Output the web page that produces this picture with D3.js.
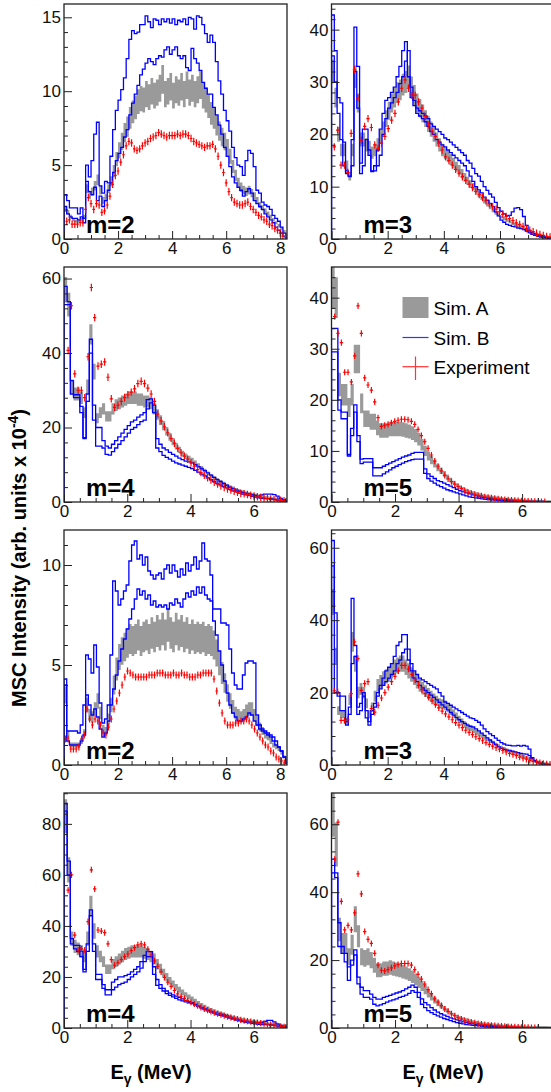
<!DOCTYPE html>
<html>
<head>
<meta charset="utf-8">
<script src="https://d3js.org/d3.v7.min.js"></script>
<style>
  body { margin: 0; background: #fff; }
  text { font-family: "Liberation Sans", Arial, Helvetica, sans-serif; }
</style>
</head>
<body>
<div id="chart"></div>
<script>
// Histogram bins are 0.1 MeV wide, starting at 0
var binWidth = 0.1;

// ---- panel 1: m=2 (upper group) ----
var simA_1 = [2.0,1.8,1.5,1.3,1.2,1.2,1.3,1.5,3.4,3.0, 3.2,3.6,4.0,3.3,2.6,2.8,3.4,3.9,4.6,5.4, 6.0,6.6,7.2,7.6,8.2,8.6,8.9,9.3,9.5,9.4, 9.8,9.6,10.0,9.7,9.9,10.2,10.8,9.8,10.0,10.3, 9.7,10.1,9.9,10.3,9.8,10.4,9.9,10.2,9.8,10.1, 10.4,9.7,9.4,9.0,8.5,8.2,7.7,7.3,6.9,6.6, 6.2,5.6,4.9,4.3,3.8,3.5,3.3,3.2,3.3,3.1, 2.9,2.6,2.3,2.1,1.9,1.7,1.5,1.3,1.1,0.9, 0.7,0.5,0.3];
var simB1_1 = [3.0,2.6,2.1,2.1,2.1,1.7,2.1,1.4,5.0,4.2, 5.3,7.1,7.9,3.6,3.1,3.9,3.8,5.6,7.4,8.7, 9.4,10.1,10.9,12.2,13.5,14.1,13.9,14.0,14.5,14.5, 15.1,14.7,14.3,14.9,14.8,14.5,14.9,14.7,14.9,14.6, 14.9,14.5,14.8,14.7,14.9,14.5,15.0,14.9,14.2,15.1, 15.0,14.5,13.9,13.3,13.8,13.3,12.0,10.7,9.8,8.7, 8.0,7.3,6.2,5.5,5.0,4.9,4.3,5.3,6.0,5.8, 4.9,3.3,3.1,2.5,2.3,2.2,2.0,1.6,1.4,1.2, 0.8,0.4,0.1];
var simB2_1 = [2.2,1.7,1.5,1.4,1.4,1.3,1.5,1.1,3.9,3.2, 3.0,3.5,2.6,2.9,2.2,2.6,3.3,3.8,4.5,5.3, 5.8,6.2,6.9,7.4,8.4,9.2,9.8,10.4,11.1,11.5, 11.9,12.2,12.0,11.8,12.2,12.4,12.3,12.8,13.0,12.5, 12.8,13.0,12.4,12.2,12.4,11.6,11.4,12.9,12.2,11.9, 11.4,10.6,10.2,9.8,9.8,8.9,8.4,7.7,7.1,6.2, 5.6,4.9,4.2,3.8,3.5,3.3,2.9,3.2,3.4,3.1, 2.6,2.4,2.2,2.0,1.7,1.5,1.3,1.1,0.8,0.6, 0.4,0.2,0.05];
var exp_1 = [1.2,1.3,1.0,1.0,1.0,1.1,1.1,2.0,2.8,2.4, 2.0,2.4,2.3,1.8,1.9,2.3,2.9,3.7,4.3,4.6, 5.2,5.7,6.3,6.6,6.5,6.1,6.0,6.1,6.3,6.5, 6.6,6.8,6.9,7.0,7.2,7.1,7.0,6.9,7.0,7.0, 7.0,7.1,7.0,7.1,7.1,7.0,6.8,6.6,6.5,6.4, 6.3,6.2,6.3,6.3,6.4,6.1,5.6,5.0,4.5,3.8, 3.2,2.8,2.5,2.4,2.3,2.3,2.4,2.5,2.2,2.0, 1.8,1.6,1.5,1.3,1.2,1.0,0.9,0.7,0.6,0.4, 0.2,0.1];

// ---- panel 2: m=3 (upper group) ----
var simA_2 = [32,27,20,17,17,14,12,17,31,26, 19,19,18,17.5,16.5,17,18,19.5,21,23, 24.5,26,27,28,28.5,29.5,30,31,29,27.5, 26,25,24,23,22,21,20,19,18,17, 16.4,15.8,15.2,14.5,13.8,13.2,12.5,11.8,11.1,10.5, 10,9.3,8.6,8,7.3,6.7,6.1,5.5,5,4.6, 4.2,3.9,3.6,3.3,3.0,2.8,2.6,2.3,2.0,1.7, 1.4,1.1,0.9,0.7,0.5,0.4,0.3,0.2,0.1];
var simB1_2 = [42.8,36,27,26,18.5,13,12,19,40.5,33, 14.5,21,21,16,13,14,17,21,24,26.5, 27,28,29,31,33,36,37.7,31,27,25.5, 25,24.5,24,23.5,23,22,21.5,21,20.5,20, 19.3,19,18.5,18,17.5,17,16.5,16,15,14.5, 13.5,12.5,12,11,10,9.3,8.6,8,7,6, 5.3,4.8,4.4,4.5,5.2,5.9,6.0,5.6,4.3,2.6, 1.6,1.2,1.0,0.8,0.6,0.4,0.3,0.2,0.1];
var simB2_2 = [35,30,24,19,14,12.5,11.9,14,32,25, 12.5,14,19,17,12.9,13,14,16,20,23, 25,26,27,28,29.7,31,34,36,29,26.5, 24,23.5,23,22.4,21.5,20.5,20,19,18.5,18, 17.6,17,16.5,16,15.5,15,14.5,14,13,12, 11,10,9.4,8.8,8,7.4,6.8,6.2,5.2,4.4, 3.6,3.2,2.8,2.6,2.4,2.3,2.1,2.0,1.8,1.5, 1.2,0.9,0.7,0.5,0.4,0.3,0.2,0.1,0.05];
var exp_2 = [17.6,20.8,14.1,14.1,12.7,20.2,32.3,26.9,18.9,21.5, 23,21.3,18,17.3,18.3,19.6,21.1,22.7,24,26.2, 28.8,30.4,28.8,27.5,27.5,26.2,25,23.4,21.8,20.6, 19.6,18.3,17,15.7,15.0,14.1,13.3,12.6,11.9,11.2, 10.5,9.8,9.1,8.5,7.9,7.3,6.7,6.2,5.7,5.2, 4.7,4.3,3.9,3.5,3.1,2.8,2.4,2.0,1.7,1.4, 1.1,0.9,0.7,0.5,0.4,0.3,0.2];

// ---- panel 3: m=4 (upper group) ----
var simA_3 = [57,53,31,29,29,28,24,31,45,35, 22.5,24,25,23,23,25,26,26.5,27,27.5, 28,28,28,27.5,27.5,27,27,26.5,25,23.5, 22,20.5,19,17.5,16.2,15,14,13,12.3,11.7, 11.2,10.5,9.8,9.1,8.4,7.7,7.1,6.5,6.0,5.5, 5.0,4.5,4.1,3.7,3.3,3.0,2.7,2.4,2.2,2.0, 1.8,1.6,1.4,1.2,1.1,0.9,0.8,0.6,0.5,0.3, 0.2];
var simB1_3 = [57.9,53.8,32.6,28.8,28.8,25.7,17.3,29,43.7,26, 20,20,16.5,15,14.5,15.5,16.5,17.5,18.5,19.5, 20.5,21.5,22,22.8,23.4,24,27.5,27.7,24,17, 15.5,14.5,14,13.3,12.8,12.3,11.8,11.4,11,10.8, 10.5,10,9.5,9,8.4,7.8,7.2,6.6,6,5.5, 5,4.5,4,3.6,3.2,2.9,2.6,2.4,2.2,2.0, 1.8,1.6,1.9,2.1,2.1,2.1,2.0,1.6,1.0,0.6, 0.3];
var simB2_3 = [53,53,29,28,28,24,17,27,40,22, 15,15,14.5,12.8,12.6,13.5,14.5,15.5,16.5,17.5, 18.5,19.5,20,20.8,21.6,22,25,26.6,26,14.5, 13.5,12.5,12,11.5,11,10.5,10.2,9.9,9.6,9.3, 9,8.5,8,7.5,7,6.5,6,5.5,5,4.6, 4.2,3.8,3.4,3,2.7,2.4,2.1,1.9,1.7,1.5, 1.3,1.1,1.0,0.9,0.9,0.8,0.7,0.5,0.3,0.2, 0.1];
var exp_3 = [40.7,52.7,34.4,30,30,28,39,57.6,49.5,36.5, 37,37.6,33.5,27.7,25.4,26,27,28,28.8,29.5, 30.4,31.8,32.4,31.8,30.6,29,27,23.6,21.8,20.2, 18.6,17.1,15.8,14.4,13.2,12.3,11.5,10.5,9.6,8.7, 7.9,7.2,6.5,5.9,5.3,4.8,4.3,3.9,3.5,3.2, 2.9,2.6,2.3,2.2,2.0,1.8,1.6,1.4,1.3,1.1, 0.9,0.8,0.6,0.5,0.45,0.35];

// ---- panel 4: m=5 (upper group) ----
var simA_4 = [42,40,23,21,21,18.5,21,28,28,19.3, 16.3,16.3,15.7,15.7,14.5,14,14,14,14.3,14.3, 14.3,14.3,14.2,14,13.8,13.5,13,12.3,11.2,10, 9,8.2,7.5,6.7,6.1,5.5,4.9,4.3,3.8,3.3, 2.9,2.6,2.3,2.0,1.8,1.6,1.4,1.2,1.1,1.0, 0.9,0.8,0.7,0.6,0.5,0.45,0.4,0.35,0.3,0.25, 0.2,0.2,0.15,0.15,0.1,0.1,0.1,0.05,0.05,0.05];
var simB1_4 = [34,34,20,17.6,17.6,9.3,14.4,19,13,8.4, 8.5,8.5,8.5,6.7,6.7,6.7,7,7.3,7.6,7.9, 8.2,8.5,8.8,9,9.2,9.5,9.7,9.7,9.7,6.5, 5.5,5,4.6,4.2,4,3.7,3.4,3.1,2.8,2.5, 2.2,2,1.8,1.6,1.4,1.2,1.0,0.9,0.8,0.7, 0.6,0.5,0.4,0.4,0.3,0.3,0.2,0.2,0.2,0.1, 0.1,0.1,0.1,0.1,0.1,0.1,0.1,0.05,0.05,0.05];
var simB2_4 = [29.4,29.4,18,16.3,16.3,9,13,17.6,11.8,7.5, 7.8,7.8,7.8,5.1,5.1,5.1,5.5,5.9,6.3,6.7, 7,7.3,7.6,7.9,8.1,8.3,8.4,8.4,8.4,5.6, 4.6,4.1,3.7,3.3,3.0,2.7,2.4,2.2,2.0,1.8, 1.6,1.4,1.2,1.0,0.9,0.8,0.7,0.6,0.5,0.45, 0.4,0.35,0.3,0.25,0.2,0.2,0.15,0.15,0.1,0.1, 0.1,0.1,0.05,0.05,0.05,0.05,0.05,0.05,0.05,0.05];
var exp_4 = [36.3,33,31.2,25.4,25.4,23.5,28.6,38.4,33,24.3, 22.9,21.9,19.6,16.5,14.8,15,15.2,15.5,15.8,16, 16.2,16.2,16.1,15.8,15.2,14.2,13,11.8,10.5,9.2, 8,7,6.1,5.2,4.5,4.0,3.5,3.0,2.6,2.2, 1.9,1.7,1.5,1.3,1.2,1.0,0.9,0.8,0.7,0.6, 0.55,0.5,0.45,0.4,0.35,0.3,0.25,0.2,0.2,0.15, 0.15,0.1,0.1,0.1];

// ---- panel 5: m=2 (lower group) ----
var simA_5 = [3.5,1.5,1.0,1.0,1.0,1.0,1.2,1.6,3.0,2.5, 2.4,2.8,3.2,2.6,1.8,1.7,2.3,3.0,4.0,4.8, 5.4,5.7,5.9,6.1,6.3,6.2,6.3,6.5,6.2,6.4, 6.5,6.3,6.6,6.4,6.7,6.5,6.8,6.5,7.0,6.6, 6.4,6.8,6.5,6.7,6.4,6.6,6.3,6.5,6.3,6.4, 6.3,6.4,6.2,6.3,6.2,6.0,5.6,5.1,4.6,4.1, 3.6,3.2,2.9,2.6,2.5,2.4,2.5,2.7,2.8,2.8, 2.5,2.2,1.9,1.7,1.5,1.4,1.2,1.0,0.9,0.8, 0.6,0.4,0.2];
var simB1_5 = [4.3,1.7,1.7,1.7,1.7,1.6,2.0,3.0,5.5,5.3, 4.6,6.0,4.9,3.1,2.1,2.3,3.0,5.5,9.2,8.7, 8.0,8.3,8.7,9.0,10.2,11.0,11.2,10.3,10.5,10.0, 10.4,9.7,9.5,9.3,9.5,9.6,9.3,9.8,10.0,9.6, 10.0,9.7,9.4,9.8,9.5,10.1,9.7,10.0,10.4,9.8, 10.2,11.1,10.3,10.2,9.5,7.8,7.8,7.8,7.1,7.1, 7.0,5.8,4.6,4.0,3.8,3.8,4.5,5.1,5.2,5.2, 5.1,2.5,2.0,1.8,1.7,1.6,1.5,1.4,1.2,0.9, 0.7,0.4,0.1];
var simB2_5 = [4.0,1.2,1.0,1.0,1.0,1.0,1.2,1.5,3.5,3.0, 2.5,2.8,2.4,1.8,1.4,1.6,2.2,3.0,3.8,4.5, 5.2,5.8,6.3,6.8,7.3,7.8,8.3,8.8,8.5,8.7, 8.3,8.5,8.0,8.2,7.9,8.0,7.9,8.0,7.8,8.1, 8.0,8.3,8.1,7.9,8.3,8.6,8.4,8.7,8.5,8.9, 8.6,8.9,8.5,8.3,8.2,7.2,6.5,5.7,5.0,4.2, 3.6,3.0,2.6,2.4,2.2,2.2,2.3,2.4,2.6,2.5, 2.2,2.0,1.8,1.7,1.6,1.5,1.4,1.2,1.0,0.9, 0.7,0.4,0.1];
var exp_5 = [1.3,1.3,0.8,0.8,0.8,0.9,1.3,1.5,2.8,2.3, 2.0,2.3,2.2,2.0,1.6,1.5,1.9,2.3,2.8,3.2, 3.6,4.0,4.4,4.7,4.6,4.5,4.4,4.4,4.4,4.4, 4.4,4.5,4.5,4.5,4.6,4.6,4.6,4.5,4.5,4.5, 4.6,4.5,4.5,4.6,4.5,4.5,4.4,4.4,4.4,4.5, 4.5,4.6,4.6,4.6,4.6,4.3,3.7,3.1,2.6,2.2, 2.0,2.0,2.0,2.1,2.1,2.2,2.2,2.3,2.2,2.0, 1.8,1.6,1.4,1.2,1.0,0.9,0.7,0.6,0.4,0.3, 0.2,0.1];

// ---- panel 6: m=3 (lower group) ----
var simA_6 = [45,30,15,14,14,12,18,34,28,20, 21,20,17,14,16,19,22,23,24,24.5, 25,26,27,27.5,28,28,27,26,25,24, 23,22,21.2,20.4,19.7,19,18.3,17.7,17.1,16.8, 16.5,15.8,15,14.2,13.4,12.6,11.9,11.2,10.6,10.1, 9.6,9.1,8.6,8.1,7.6,7.1,6.6,6.2,5.7,5.3, 4.9,4.5,4.1,3.8,3.5,3.2,2.9,2.6,2.3,2.0, 1.7,1.4,1.1,0.8,0.6,0.4,0.3,0.2];
var simB1_6 = [62,42,20,19,19,12,16,46,33,16, 17,20,15,12,15,17,20,22,24,26, 27,28,30,33,34,36,36,32,28,26, 25,24,23.5,23,22.5,22,21.5,21,20,19, 17.4,17,16.5,16,15.5,15,14.5,14,13.5,13, 12.8,12.3,11.8,11,10,9.2,8.6,8.1,7.4,6.8, 6.2,5.8,5.5,5.4,5.3,5.3,5.4,5.2,5.4,5.2, 4.4,2.0,1.2,0.8,0.5,0.3,0.2,0.1];
var simB2_6 = [55,20,19,15,15,11,14,28,30,14, 15,19,13,11,14,16,19,21,22,23, 24,25,26,28,29,31,32,29,26,24, 23,22,21.3,20.6,20,19.3,18.7,18,17.3,16.6, 16,15.2,14.5,13.8,13.1,12.5,12,11.5,11,10.7, 10.5,10,9.4,8.8,8.2,7.5,6.9,6.3,5.7,5.1, 4.6,4.3,4.1,4.0,3.8,3.6,3.4,3.2,3.1,3.0, 2.6,1.8,1.0,0.6,0.4,0.2,0.1,0.05];
var exp_6 = [20.5,20.2,12.3,12.3,12.5,19.7,34,29.4,20.6,22.5, 23,15.6,14.6,16.5,18.5,20,21.5,23,24.5,26, 27.5,27.5,26.5,25,23.5,22,20.8,19.7,18.7,17.7, 16.7,15.8,14.9,14.1,13.3,12.5,11.7,11,10.3,9.6, 9,8.4,7.8,7.3,6.7,6.2,5.7,5.2,4.8,4.4, 4.0,3.6,3.2,2.9,2.6,2.2,1.9,1.6,1.3,1.0, 0.8,0.6,0.4,0.3,0.2];

// ---- panel 7: m=4 (lower group) ----
var simA_7 = [83,62,35,32,31,30,28,35,48,38, 30,28,26,23,23,25,26,27,28,29, 29.5,30,30,30,30,29.5,29,28,27,25, 23.3,21.5,20,18.5,17.2,16,15,14,13,12.2, 11.4,10.6,9.8,9.1,8.4,7.8,7.2,6.7,6.2,5.8, 5.4,5.0,4.6,4.2,3.9,3.6,3.3,3.0,2.8,2.6, 2.4,2.2,2.0,1.8,1.6,1.4,1.2,1.0,0.8,0.6, 0.4];
var simB1_7 = [88,65.4,35,32.4,32.4,30,23,33,46.3,33, 21,21,17,15,15,18,19,20,20,20.5, 21,22,23,24,26,28.5,30,29.9,24,19, 17,15.5,14.5,13.7,13,12.5,12,11.4,10.8,10.3, 10,9.3,8.7,8.1,7.5,7,6.5,6.1,5.7,5.4, 5.1,4.7,4.3,3.9,3.5,3.2,2.9,2.7,2.5,2.4, 2.2,2.0,2.2,2.6,3.0,3.0,2.4,1.6,1.0,0.6, 0.3];
var simB2_7 = [85,60,33,31,30,28,22,30,44,30, 19,19,15.5,13,13,15,16,17,17.5,18, 19,20,21,22,23.5,26,28,28,21,16.7, 15.5,14.5,13.5,12.8,12.2,11.6,11,10.6,10.2,9.9, 9.6,9,8.4,7.8,7.2,6.7,6.2,5.8,5.3,5.0, 4.7,4.3,3.9,3.5,3.1,2.8,2.5,2.2,2.0,1.8, 1.6,1.4,1.3,1.3,1.3,1.2,1.0,0.8,0.5,0.3, 0.2];
var exp_7 = [54,60,36.4,30.5,31,30.5,41.7,62,54.5,38.4, 38,37.4,33,26.8,24.6,25.5,26.8,28,29,30.3, 31.5,32.6,33,32.6,30.8,28.6,26.3,24.2,22,19.8, 18,16.3,14.7,13.4,12.4,11.6,10.8,10.1,9.4,8.7, 8.1,7.5,7.0,6.5,6.0,5.6,5.2,4.8,4.4,4.1, 3.8,3.5,3.2,2.9,2.7,2.5,2.3,2.1,1.9,1.7, 1.5,1.3,1.1,0.9,0.7,0.5];

// ---- panel 8: m=5 (lower group) ----
var simA_8 = [64,54,29,25,25,21,24.5,32,27,21, 20.5,21,20,18.5,17,17,17.5,17.5,17.8,17.5, 17.2,17,16.6,16.2,15.7,15.1,14.3,13.4,12.4,11.3, 10.2,9.2,8.2,7.3,6.5,5.8,5.1,4.5,3.9,3.4, 3.0,2.7,2.4,2.1,1.8,1.6,1.4,1.2,1.1,1.0, 0.9,0.8,0.7,0.6,0.5,0.5,0.4,0.35,0.3,0.25, 0.2,0.2,0.15,0.15,0.1,0.1,0.1,0.1,0.05,0.05];
var simB1_8 = [49.7,45.7,31,24,22,18,20,23,15,12, 11,11,10,9,8.5,8.5,9,9.3,9.6,10, 10.3,10.6,11,11.5,12,12.6,12,10.5,8.6,7.5, 6.8,6.0,5.3,4.7,4.2,3.8,3.4,3.0,2.7,2.4, 2.1,1.8,1.6,1.4,1.2,1.0,0.9,0.8,0.7,0.6, 0.5,0.4,0.35,0.3,0.25,0.2,0.2,0.15,0.15,0.1, 0.1,0.1,0.1,0.1,0.05,0.05,0.05,0.05,0.05,0.05];
var simB2_8 = [45.7,44.3,24,22,19.5,14,18.5,21.5,13,10, 9,9,8.5,7,6.5,6.8,7.2,7.6,8,8.3, 8.6,9,9.3,9.7,10.2,11,10.5,9,7,6, 5.1,4.5,4.0,3.6,3.2,2.8,2.5,2.2,1.9,1.6, 1.4,1.2,1.0,0.9,0.8,0.7,0.6,0.5,0.4,0.35, 0.3,0.25,0.2,0.2,0.15,0.15,0.1,0.1,0.1,0.1, 0.05,0.05,0.05,0.05,0.05,0.05,0.05,0.05,0.05,0.05];
var exp_8 = [49.7,60.6,37.3,28.9,30.2,28.9,33.9,45.4,39.5,28.4, 26.1,24.9,22,18.5,17,16.8,17.2,17.7,18.3,18.7, 19,19,19,18.5,17.2,15.8,14.4,12.9,11.3,10.1, 8.6,7.6,6.6,5.6,4.9,4.2,3.6,3.0,2.6,2.2, 1.9,1.7,1.5,1.3,1.15,1.0,0.9,0.8,0.7,0.62, 0.55,0.48,0.42,0.37,0.32,0.28,0.24,0.2,0.17,0.14, 0.12,0.1];

// Per-panel settings (panel order: left/right, top to bottom)
var panelLabels = ["m=2", "m=3", "m=4", "m=5", "m=2", "m=3", "m=4", "m=5"];
var xMaxes = [8.25, 7.94, 7.05, 7.02, 8.25, 7.94, 7.05, 7.02];
var yMaxes = [15.9, 44.9, 63.1, 46, 11.75, 64.9, 92.1, 69.2];
var yTickSteps = [5, 10, 20, 10, 5, 20, 20, 20];
var expStart = [0.1, 0.1, 0.13, 0.1, 0.05, 0.1, 0.13, 0.1];
var expStep = [0.1, 0.12, 0.105, 0.105, 0.1, 0.12, 0.105, 0.105];
var expErr = [0.25, 0.7, 1.0, 0.6, 0.18, 0.9, 1.2, 0.9];
var simARelErr = [0.09, 0.07, 0.06, 0.1, 0.12, 0.08, 0.08, 0.12];
var legendLabels = ["Sim. A", "Sim. B", "Experiment"];

var simA = [simA_1, simA_2, simA_3, simA_4, simA_5, simA_6, simA_7, simA_8];
var simB1 = [simB1_1, simB1_2, simB1_3, simB1_4, simB1_5, simB1_6, simB1_7, simB1_8];
var simB2 = [simB2_1, simB2_2, simB2_3, simB2_4, simB2_5, simB2_6, simB2_7, simB2_8];
var expData = [exp_1, exp_2, exp_3, exp_4, exp_5, exp_6, exp_7, exp_8];

// Layout
var fullWidth = 551;
var fullHeight = 1092;
var colLeft = [64, 331.5];
var rowTop = [4, 267, 530, 793];
var panelWidth = 223;
var panelHeight = 235;
var labelOffset = [22, 32];

var svg = d3.select('#chart')
    .append('svg')
    .attr('width', fullWidth)
    .attr('height', fullHeight);

function DrawPanel(k) {
    var col = k % 2;
    var row = Math.floor(k / 2);

    var g = svg.append('g')
        .attr('transform', 'translate(' + colLeft[col] + ',' + rowTop[row] + ')');

    var x = d3.scaleLinear().domain([0, xMaxes[k]]).range([0, panelWidth]);
    var y = d3.scaleLinear().domain([0, yMaxes[k]]).range([panelHeight, 0]);

    g.append('clipPath')
        .attr('id', 'clip' + k)
        .append('rect')
        .attr('width', panelWidth)
        .attr('height', panelHeight);

    var plot = g.append('g').attr('clip-path', 'url(#clip' + k + ')');

    // Sim. A: grey error band, one step per bin
    var rel = simARelErr[k];
    var bandPts = simA[k].map(function(v, i) { return [i * binWidth, v]; });
    bandPts.push([simA[k].length * binWidth, simA[k][simA[k].length - 1]]);
    var band = d3.area()
        .curve(d3.curveStepAfter)
        .x(function(d) { return x(d[0]); })
        .y0(function(d) { return Math.max(y(d[1] * (1 - rel)), y(d[1]) + 1.6); })
        .y1(function(d) { return Math.min(y(d[1] * (1 + rel)), y(d[1]) - 1.6); });
    plot.append('path')
        .attr('d', band(bandPts))
        .attr('fill', '#9a9a9a');

    // Sim. B: two blue step histograms
    var step = d3.line()
        .curve(d3.curveStepAfter)
        .x(function(d) { return x(d[0]); })
        .y(function(d) { return y(d[1]); });
    [simB1[k], simB2[k]].forEach(function(arr) {
        var pts = [[0, 0]];
        arr.forEach(function(v, i) { pts.push([i * binWidth, v]); });
        pts.push([arr.length * binWidth, 0]);
        plot.append('path')
            .attr('d', step(pts))
            .attr('fill', 'none')
            .attr('stroke', '#0000ff')
            .attr('stroke-width', 1.3);
    });

    // Experiment: red crosses
    var halfW = expStep[k] / 2;
    var crossPath = '';
    expData[k].forEach(function(v, i) {
        var ex = expStart[k] + expStep[k] * i;
        var cy = y(v);
        var dy = Math.max(y(0) - y(expErr[k]), 1.8);
        crossPath += 'M' + x(ex) + ',' + (cy - dy) + 'V' + (cy + dy) +
            'M' + x(ex - halfW) + ',' + cy + 'H' + x(ex + halfW);
    });
    plot.append('path')
        .attr('d', crossPath)
        .attr('fill', 'none')
        .attr('stroke', '#ff0000')
        .attr('stroke-width', 1.2);

    // Axes, ticks point inward
    var yMajor = d3.range(0, yMaxes[k], yTickSteps[k]);
    var yMinor = d3.range(0, yMaxes[k], yTickSteps[k] / 5).filter(function(v) {
        return Math.abs(v / yTickSteps[k] - Math.round(v / yTickSteps[k])) > 1e-6;
    });
    var xMajor = d3.range(0, xMaxes[k], 2);
    var xMinor = d3.range(0, xMaxes[k], 0.5).filter(function(v) { return v % 2 !== 0; });

    g.append('g')
        .classed('axis_y', true)
        .call(d3.axisLeft(y).tickValues(yMajor).tickSize(-8).tickPadding(3).tickFormat(d3.format('d')));
    g.append('g')
        .call(d3.axisLeft(y).tickValues(yMinor).tickSize(-4).tickFormat(''));
    g.append('g')
        .classed('axis_x', true)
        .attr('transform', 'translate(0,' + panelHeight + ')')
        .call(d3.axisBottom(x).tickValues(xMajor).tickSize(-8).tickPadding(3).tickFormat(d3.format('d')));
    g.append('g')
        .attr('transform', 'translate(0,' + panelHeight + ')')
        .call(d3.axisBottom(x).tickValues(xMinor).tickSize(-4).tickFormat(''));

    g.selectAll('.domain').remove();
    g.selectAll('.tick line').attr('stroke', '#222').attr('stroke-width', 1);
    g.selectAll('.tick text')
        .attr('font-size', 17)
        .attr('fill', '#111')
        .style('font-family', '"Liberation Sans", Arial, sans-serif');

    // Frame
    g.append('rect')
        .attr('width', panelWidth)
        .attr('height', panelHeight)
        .attr('fill', 'none')
        .attr('stroke', '#222')
        .attr('stroke-width', 1.3);

    // Multiplicity label
    g.append('text')
        .attr('x', labelOffset[col])
        .attr('y', panelHeight - 6)
        .attr('font-size', 24)
        .attr('font-weight', 'bold')
        .attr('fill', '#000')
        .text(panelLabels[k]);

    return g;
}

var panelGroups = [];
for (var k = 0; k < 8; k++) {
    panelGroups.push(DrawPanel(k));
}

// Legend inside the m=5 panel of the upper group
var legend = panelGroups[3].append('g').attr('transform', 'translate(71,0)');
legend.append('rect')
    .attr('x', 0).attr('y', 30)
    .attr('width', 26).attr('height', 21)
    .attr('fill', '#9a9a9a');
legend.append('line')
    .attr('x1', 0).attr('x2', 26).attr('y1', 70.5).attr('y2', 70.5)
    .attr('stroke', '#3333ff').attr('stroke-width', 1.2);
legend.append('line')
    .attr('x1', 0).attr('x2', 26).attr('y1', 99.7).attr('y2', 99.7)
    .attr('stroke', '#ff3333').attr('stroke-width', 1.2);
legend.append('line')
    .attr('x1', 13).attr('x2', 13).attr('y1', 89.5).attr('y2', 113)
    .attr('stroke', '#ff3333').attr('stroke-width', 1.2);
legend.selectAll('text.leg')
    .data(legendLabels)
    .enter()
    .append('text')
    .attr('x', 31)
    .attr('y', function(d, i) { return [48, 78, 106.5][i]; })
    .attr('font-size', 19)
    .attr('fill', '#000')
    .text(function(d) { return d; });

// Axis titles
var yTitle = svg.append('text')
    .attr('transform', 'translate(26,558) rotate(-90)')
    .attr('text-anchor', 'middle')
    .attr('font-size', 20)
    .attr('font-weight', 'bold')
    .attr('fill', '#000');
yTitle.append('tspan').text('MSC Intensity (arb. units x 10');
yTitle.append('tspan').attr('dy', -8).attr('font-size', 14).text('-4');
yTitle.append('tspan').attr('dy', 8).text(')');

[151, 443].forEach(function(cx) {
    var t = svg.append('text')
        .attr('x', cx)
        .attr('y', 1079)
        .attr('text-anchor', 'middle')
        .attr('font-size', 20)
        .attr('font-weight', 'bold')
        .attr('fill', '#000');
    t.append('tspan').text('E');
    t.append('tspan').attr('dy', 5).attr('font-size', 14).text('\u03b3');
    t.append('tspan').attr('dy', -5).text(' (MeV)');
});
</script>
</body>
</html>
